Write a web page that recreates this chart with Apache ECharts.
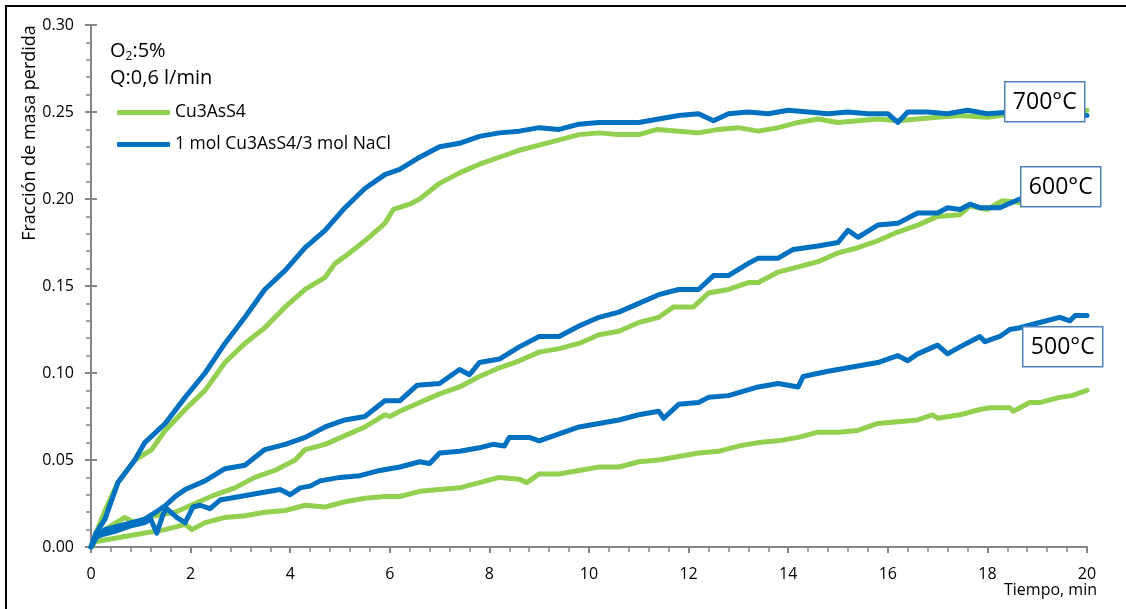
<!DOCTYPE html>
<html>
<head>
<meta charset="utf-8">
<script src="https://cdn.jsdelivr.net/npm/echarts@6/dist/echarts.min.js"></script>
<style>html,body{margin:0;padding:0;background:#fff}#c{width:1126px;height:609px}</style>
</head>
<body>
<div id="c"></div>
<script>
// ---- data ----
const xTicks = [0, 2, 4, 6, 8, 10, 12, 14, 16, 18, 20];
const yTicks = [0.00, 0.05, 0.10, 0.15, 0.20, 0.25, 0.30];
const seriesNames = ['Cu3AsS4', '1 mol Cu3AsS4/3 mol NaCl'];
const tempLabels = ['700°C', '600°C', '500°C'];

const t700g = [0,0.1,0.28,0.54,0.88,1.22,1.49,1.89,2.29,2.69,3.09,3.49,3.9,4.3,4.7,4.9,5.1,5.5,5.9,6.07,6.4,6.6,7.0,7.4,7.8,8.2,8.6,9.0,9.4,9.8,10.2,10.6,11.0,11.37,11.8,12.2,12.6,13.0,13.4,13.8,14.2,14.6,15.0,15.4,15.8,16.2,16.6,17.0,17.45,18.0,18.5,19.0,19.5,20];
const v700g = [0,0.008,0.021,0.037,0.050,0.056,0.067,0.079,0.090,0.106,0.117,0.126,0.138,0.148,0.155,0.163,0.167,0.176,0.186,0.194,0.197,0.200,0.209,0.215,0.220,0.224,0.228,0.231,0.234,0.237,0.238,0.237,0.237,0.240,0.239,0.238,0.240,0.241,0.239,0.241,0.244,0.246,0.244,0.245,0.246,0.245,0.246,0.247,0.248,0.247,0.249,0.248,0.250,0.251];

const t700b = [0,0.1,0.28,0.54,0.88,1.08,1.49,1.89,2.29,2.69,3.09,3.49,3.9,4.3,4.7,5.1,5.5,5.9,6.2,6.6,7.0,7.4,7.8,8.2,8.6,9.0,9.4,9.8,10.2,10.6,11.0,11.4,11.8,12.2,12.5,12.8,13.2,13.6,14.0,14.4,14.8,15.2,15.6,16.0,16.2,16.4,16.8,17.2,17.6,18.0,18.5,19.0,19.5,20];
const v700b = [0,0.008,0.016,0.037,0.050,0.060,0.071,0.086,0.100,0.117,0.132,0.148,0.159,0.172,0.182,0.195,0.206,0.214,0.217,0.224,0.230,0.232,0.236,0.238,0.239,0.241,0.240,0.243,0.244,0.244,0.244,0.246,0.248,0.249,0.245,0.249,0.250,0.249,0.251,0.250,0.249,0.250,0.249,0.249,0.244,0.250,0.250,0.249,0.251,0.249,0.250,0.249,0.250,0.248];

const t600g = [0,0.28,0.68,0.88,1.28,1.69,2.09,2.49,2.89,3.29,3.69,4.1,4.3,4.7,5.1,5.5,5.9,6.0,6.2,6.6,7.0,7.4,7.8,8.2,8.6,9.0,9.4,9.8,10.2,10.6,11.0,11.4,11.7,12.1,12.4,12.8,13.2,13.4,13.8,14.2,14.6,15.0,15.4,15.8,16.2,16.6,17.0,17.45,17.65,18.0,18.3,18.65,19.0,19.5,20];
const v600g = [0,0.010,0.017,0.014,0.018,0.020,0.025,0.030,0.034,0.040,0.044,0.050,0.056,0.059,0.064,0.069,0.076,0.075,0.078,0.083,0.088,0.092,0.098,0.103,0.107,0.112,0.114,0.117,0.122,0.124,0.129,0.132,0.138,0.138,0.146,0.148,0.152,0.152,0.158,0.161,0.164,0.169,0.172,0.176,0.181,0.185,0.190,0.191,0.196,0.194,0.199,0.198,0.199,0.201,0.203];

const t600b = [0,0.1,0.28,0.68,1.08,1.3,1.5,1.69,1.89,2.29,2.69,3.09,3.49,3.9,4.3,4.7,5.1,5.5,5.9,6.2,6.55,7.0,7.4,7.6,7.8,8.2,8.6,9.0,9.4,9.8,10.2,10.6,11.0,11.4,11.8,12.2,12.5,12.8,13.2,13.4,13.8,14.1,14.6,15.0,15.2,15.4,15.8,16.2,16.6,17.0,17.2,17.45,17.65,17.85,18.25,18.65,19.0,19.5,20];
const v600b = [0,0.005,0.010,0.013,0.016,0.020,0.024,0.029,0.033,0.038,0.045,0.047,0.056,0.059,0.063,0.069,0.073,0.075,0.084,0.084,0.093,0.094,0.102,0.099,0.106,0.108,0.115,0.121,0.121,0.127,0.132,0.135,0.140,0.145,0.148,0.148,0.156,0.156,0.163,0.166,0.166,0.171,0.173,0.175,0.182,0.178,0.185,0.186,0.192,0.192,0.195,0.194,0.197,0.195,0.195,0.200,0.200,0.201,0.202];

const t500g = [0,0.08,0.28,0.68,1.08,1.49,1.89,2.03,2.29,2.69,3.09,3.49,3.9,4.3,4.7,5.1,5.5,5.9,6.2,6.6,7.0,7.4,7.8,8.2,8.6,8.75,9.0,9.4,9.8,10.2,10.6,11.0,11.4,11.8,12.2,12.6,13.0,13.4,13.8,14.2,14.6,15.0,15.4,15.8,16.2,16.6,16.9,17.0,17.45,17.85,18.05,18.45,18.52,18.85,19.05,19.45,19.7,20];
const v500g = [0,0.003,0.004,0.006,0.008,0.010,0.013,0.010,0.014,0.017,0.018,0.020,0.021,0.024,0.023,0.026,0.028,0.029,0.029,0.032,0.033,0.034,0.037,0.040,0.039,0.037,0.042,0.042,0.044,0.046,0.046,0.049,0.050,0.052,0.054,0.055,0.058,0.060,0.061,0.063,0.066,0.066,0.067,0.071,0.072,0.073,0.076,0.074,0.076,0.079,0.080,0.080,0.078,0.083,0.083,0.086,0.087,0.090];

const t500b = [0,0.08,0.48,0.78,1.08,1.2,1.32,1.45,1.52,1.72,1.89,2.05,2.19,2.39,2.59,2.99,3.39,3.8,4.0,4.2,4.4,4.6,5.0,5.4,5.8,6.2,6.6,6.8,7.0,7.4,7.8,8.07,8.3,8.4,8.8,9.0,9.4,9.8,10.2,10.6,11.0,11.4,11.5,11.8,12.2,12.4,12.8,13.4,13.8,14.2,14.3,14.8,15.4,15.8,16.2,16.4,16.6,17.0,17.2,17.45,17.85,17.95,18.25,18.45,18.65,19.05,19.45,19.66,19.76,20];
const v500b = [0,0.006,0.009,0.012,0.014,0.016,0.008,0.019,0.022,0.017,0.014,0.023,0.024,0.022,0.027,0.029,0.031,0.033,0.030,0.034,0.035,0.038,0.040,0.041,0.044,0.046,0.049,0.048,0.054,0.055,0.057,0.059,0.058,0.063,0.063,0.061,0.065,0.069,0.071,0.073,0.076,0.078,0.074,0.082,0.083,0.086,0.087,0.092,0.094,0.092,0.098,0.101,0.104,0.106,0.110,0.107,0.111,0.116,0.111,0.115,0.121,0.118,0.121,0.125,0.126,0.129,0.132,0.130,0.133,0.133];

// ---- chart ----
const GREEN = '#92d050', BLUE = '#0070c0', AX = '#868686';
const FONT = 'Open Sans';
function pairs(t, v) { const n = Math.min(t.length, v.length); const out = []; for (let i = 0; i < n; i++) out.push([t[i], v[i]]); return out; }
function line(name, color, t, v) {
  return { name, type: 'line', data: pairs(t, v), showSymbol: false, symbol: 'none', smooth: false,
    lineStyle: { color, width: 5, join: 'round', cap: 'round' }, itemStyle: { color }, z: color === BLUE ? 3 : 2, silent: true };
}
function tempBox(x, y, txt) {
  return { type: 'group', left: x, top: y, children: [
    { type: 'rect', shape: { x: 0, y: 0, width: 80, height: 40 }, style: { fill: '#fff', stroke: '#4f81bd', lineWidth: 1.5 }, z: 100 },
    { type: 'text', style: { x: 40, y: 21, text: txt, align: 'center', verticalAlign: 'middle', font: '23px "' + FONT + '"', fill: '#000' }, z: 101 }
  ]};
}
const chart = echarts.init(document.getElementById('c'), null, { renderer: 'canvas' });
const commonX = { type: 'value', min: 0, max: 20, interval: 2, splitLine: { show: false } };
const commonY = { type: 'value', min: 0, max: 0.30, interval: 0.05, splitLine: { show: false } };
chart.setOption({
  animation: false,
  backgroundColor: '#fff',
  grid: { left: 91, right: 39, top: 25, bottom: 62 },
  xAxis: [
    Object.assign({}, commonX, {
      axisLine: { lineStyle: { color: AX, width: 2 } },
      axisTick: { show: true, length: 6, lineStyle: { color: AX, width: 2 } },
      minorTick: { show: true, splitNumber: 5, length: 5, lineStyle: { color: AX, width: 1.5 } },
      axisLabel: { margin: 19, fontSize: 16, color: '#000', fontFamily: FONT, formatter: v => xTicks.includes(v) ? String(v) : '' }
    }),
    Object.assign({}, commonX, {
      axisLine: { show: false },
      axisTick: { show: true, inside: true, length: 6, lineStyle: { color: AX, width: 2 } },
      axisLabel: { show: false }
    })
  ],
  yAxis: [
    Object.assign({}, commonY, {
      axisLine: { show: true, lineStyle: { color: AX, width: 2 } },
      axisTick: { show: true, length: 6, lineStyle: { color: AX, width: 2 } },
      minorTick: { show: true, splitNumber: 5, length: 5, lineStyle: { color: AX, width: 1.5 } },
      axisLabel: { margin: 17, fontSize: 16, color: '#000', fontFamily: FONT, formatter: v => yTicks.some(y => Math.abs(y - v) < 1e-9) ? v.toFixed(2) : '' }
    }),
    Object.assign({}, commonY, {
      position: 'left',
      axisLine: { show: false },
      axisTick: { show: true, inside: true, length: 6, lineStyle: { color: AX, width: 2 } },
      axisLabel: { show: false }
    })
  ],
  legend: {
    orient: 'vertical', left: 117, top: 102, padding: 0, itemGap: 11,
    itemWidth: 53, itemHeight: 5, icon: 'roundRect',
    textStyle: { fontSize: 17.5, color: '#000', fontFamily: FONT, lineHeight: 21 },
    data: seriesNames, selectedMode: false
  },
  series: [
    line(seriesNames[0], GREEN, t700g, v700g),
    line(seriesNames[0], GREEN, t600g, v600g),
    line(seriesNames[0], GREEN, t500g, v500g),
    line(seriesNames[1], BLUE, t700b, v700b),
    line(seriesNames[1], BLUE, t600b, v600b),
    line(seriesNames[1], BLUE, t500b, v500b)
  ],
  graphic: [
    { type: 'rect', shape: { x: 6, y: 6, width: 1140, height: 640 }, style: { fill: 'none', stroke: '#000', lineWidth: 2 }, silent: true },
    { type: 'text', left: 110, top: 41, style: { text: '{n|O}{s|2}{n|:5%}', rich: { n: { fontSize: 20, fontFamily: FONT, fill: '#000', lineHeight: 23 }, s: { fontSize: 12, fontFamily: FONT, fill: '#000', verticalAlign: 'bottom', lineHeight: 23, padding: [10, 0, 0, 0] } } } },
    { type: 'text', left: 110, top: 68, style: { text: 'Q:0,6 l/min', font: '20px "' + FONT + '"', fill: '#000' } },
    { type: 'text', x: 30, y: 133, rotation: Math.PI / 2, style: { text: 'Fracción de masa perdida', font: '18px "' + FONT + '"', fill: '#000', align: 'center', verticalAlign: 'middle' } },
    { type: 'text', right: 1126 - 1097, top: 582, style: { text: 'Tiempo, min', font: '16px "' + FONT + '"', fill: '#000' } },
    tempBox(1004, 81, tempLabels[0]),
    tempBox(1020, 166, tempLabels[1]),
    tempBox(1022, 326, tempLabels[2])
  ]
});
</script>
</body>
</html>
